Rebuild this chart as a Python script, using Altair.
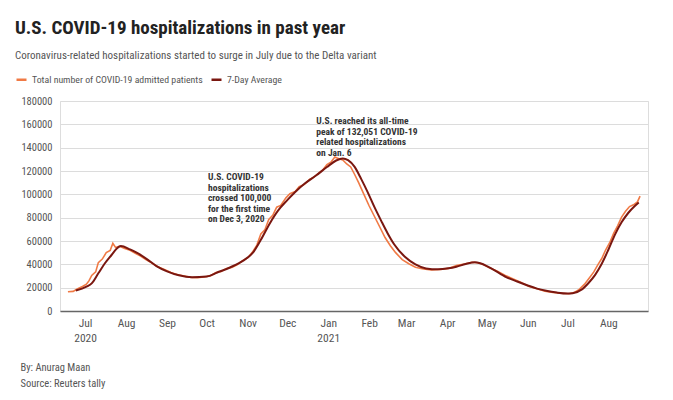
import altair as alt
import pandas as pd

# ---- data ----
avg_dates = ["2020-06-24", "2020-07-02", "2020-07-06", "2020-07-11", "2020-07-16", "2020-07-21",
             "2020-07-25", "2020-07-28", "2020-08-04", "2020-08-09", "2020-08-17", "2020-08-24",
             "2020-09-01", "2020-09-10", "2020-09-20", "2020-10-01", "2020-10-09", "2020-10-19",
             "2020-10-29", "2020-11-05", "2020-11-11", "2020-11-18", "2020-11-24", "2020-12-01",
             "2020-12-07", "2020-12-14", "2020-12-23", "2020-12-31", "2021-01-07", "2021-01-12",
             "2021-01-16", "2021-01-21", "2021-01-26", "2021-01-31", "2021-02-05", "2021-02-10",
             "2021-02-15", "2021-02-20", "2021-02-28", "2021-03-08", "2021-03-16", "2021-03-25",
             "2021-04-02", "2021-04-08", "2021-04-15", "2021-04-22", "2021-04-26", "2021-05-04",
             "2021-05-16", "2021-05-24", "2021-06-01", "2021-06-08", "2021-06-15", "2021-06-23",
             "2021-07-01", "2021-07-05", "2021-07-12", "2021-07-17", "2021-07-22", "2021-07-27",
             "2021-08-01", "2021-08-06", "2021-08-11", "2021-08-16", "2021-08-21", "2021-08-24"]
avg_values = [17500, 20800, 23700, 32300, 40900, 48000,
              53500, 55700, 52800, 50000, 44300, 38500,
              34000, 30600, 29000, 29500, 33000, 37500,
              43400, 50000, 61000, 75500, 86000, 95000,
              102000, 109000, 116300, 123400, 129000, 130800,
              129300, 123500, 113000, 101500, 89000, 77500,
              66500, 57000, 46500, 40000, 36500, 35700,
              36600, 38000, 40300, 41800, 41000, 36800,
              28900, 25300, 21900, 19200, 17300, 15800,
              15000, 15300, 18500, 24000, 31000, 40500,
              52500, 65500, 76000, 84000, 90000, 93000]

raw_dates = ["2020-06-18", "2020-06-22", "2020-06-25", "2020-06-29", "2020-07-02", "2020-07-04",
             "2020-07-06", "2020-07-09", "2020-07-11", "2020-07-14", "2020-07-17", "2020-07-20",
             "2020-07-22", "2020-07-24", "2020-07-27", "2020-07-31", "2020-08-04", "2020-08-08",
             "2020-08-12", "2020-08-16", "2020-08-20", "2020-08-25", "2020-08-30", "2020-09-04",
             "2020-09-09", "2020-09-14", "2020-09-19", "2020-09-24", "2020-09-29", "2020-10-04",
             "2020-10-08", "2020-10-12", "2020-10-16", "2020-10-20", "2020-10-24", "2020-10-28",
             "2020-11-01", "2020-11-05", "2020-11-08", "2020-11-11", "2020-11-14", "2020-11-17",
             "2020-11-20", "2020-11-23", "2020-11-26", "2020-11-30", "2020-12-03", "2020-12-07",
             "2020-12-10", "2020-12-14", "2020-12-18", "2020-12-21", "2020-12-25", "2020-12-28",
             "2020-12-31", "2021-01-03", "2021-01-06", "2021-01-09", "2021-01-12", "2021-01-15",
             "2021-01-18", "2021-01-21", "2021-01-24", "2021-01-28", "2021-02-01", "2021-02-05",
             "2021-02-09", "2021-02-13", "2021-02-17", "2021-02-21", "2021-02-26", "2021-03-03",
             "2021-03-08", "2021-03-14", "2021-03-20", "2021-03-27", "2021-04-02", "2021-04-08",
             "2021-04-14", "2021-04-20", "2021-04-24", "2021-04-28", "2021-05-03", "2021-05-09",
             "2021-05-15", "2021-05-21", "2021-05-27", "2021-06-02", "2021-06-08", "2021-06-14",
             "2021-06-20", "2021-06-26", "2021-07-02", "2021-07-06", "2021-07-10", "2021-07-14",
             "2021-07-18", "2021-07-21", "2021-07-24", "2021-07-27", "2021-07-30", "2021-08-02",
             "2021-08-05", "2021-08-08", "2021-08-11", "2021-08-14", "2021-08-17", "2021-08-20",
             "2021-08-23", "2021-08-25"]
raw_values = [16500, 16800, 18800, 21000, 23000, 26000,
              30500, 33500, 41500, 44500, 50000, 52000,
              58000, 54500, 55500, 53500, 52000, 49500,
              47000, 44000, 41500, 38000, 35500, 33000,
              31000, 30000, 28800, 28600, 29200, 30200,
              33000, 33800, 36500, 37200, 39500, 43000,
              45500, 51000, 56500, 66000, 69500, 78500,
              82000, 89000, 90500, 97000, 100500, 102500,
              106500, 108500, 113000, 114500, 118500, 121000,
              125500, 127500, 132051, 130500, 129500, 126000,
              123500, 117000, 110000, 100000, 90000, 81000,
              72000, 63000, 56000, 50000, 44000, 40500,
              37500, 36000, 35200, 35600, 36500, 39000,
              40300, 41800, 41300, 40000, 37000, 34000,
              30500, 27500, 24500, 21000, 19000, 17000,
              16000, 15200, 14800, 15800, 18500, 23000,
              29000, 33500, 39500, 45000, 52500, 58500,
              66500, 73000, 80500, 85500, 89500, 91000,
              93500, 98500]

y_ticks = [0, 20000, 40000, 60000, 80000, 100000, 120000, 140000, 160000, 180000]

series_names = ["Total number of COVID-19 admitted patients", "7-Day Average"]
series_colors = ["#F07A45", "#7A1710"]

note_dates = ["2020-10-02", "2020-12-23"]
note_values = [119000, 167000]
note_texts = [
    "U.S. COVID-19\nhospitalizations\ncrossed 100,000\nfor the first time\non Dec 3, 2020",
    "U.S. reached its all-time\npeak of 132,051 COVID-19\nrelated hospitalizations\non Jan. 6",
]

FONT = "Liberation Sans Narrow, Roboto Condensed, Lato"

raw_df = pd.DataFrame({"date": [d + "T00:00:00" for d in raw_dates], "value": raw_values,
                       "series": series_names[0]})
avg_df = pd.DataFrame({"date": [d + "T00:00:00" for d in avg_dates], "value": avg_values,
                       "series": series_names[1]})
note_df = pd.DataFrame({"date": [d + "T00:00:00" for d in note_dates], "value": note_values,
                        "text": note_texts})

label_expr = ("(month(datum.value) == 0 || (month(datum.value) == 6 && year(datum.value) == 2020))"
              " ? [timeFormat(datum.value, '%b'), timeFormat(datum.value, '%Y')]"
              " : timeFormat(datum.value, '%b')")

x_enc = alt.X(
    "date:T",
    scale=alt.Scale(domain=["2020-06-12T00:00:00", "2021-08-31T00:00:00"]),
    axis=alt.Axis(
        title=["By: Anurag Maan", "Source: Reuters tally"],
        titleFont=FONT, titleFontSize=10.5, titleFontWeight="normal", titleColor="#555",
        titleAnchor="start", titleAlign="left", titleBaseline="top",
        titleX=-40, titleY=51, titleLineHeight=16,
        tickCount=alt.TickCount(interval="month", step=1),
        labelExpr=label_expr, labelFont=FONT, labelFontSize=11.5, labelColor="#555",
        labelLineHeight=15, labelPadding=6, ticks=False, grid=False,
        domainColor="#666", domainWidth=1.5,
    ),
)
y_enc = alt.Y(
    "value:Q",
    scale=alt.Scale(domain=[0, 180000], nice=False),
    axis=alt.Axis(
        title=None, values=y_ticks, format="d", labelOverlap=False,
        labelFont=FONT, labelFontSize=10.5, labelColor="#555", labelPadding=8,
        ticks=False, domain=False, gridColor="#dcdcdc", gridWidth=1,
    ),
)
color_enc = alt.Color(
    "series:N",
    scale=alt.Scale(domain=series_names, range=series_colors),
    legend=alt.Legend(
        title=None, orient="none", direction="horizontal", legendX=-45, legendY=-28,
        symbolType="stroke", symbolStrokeWidth=2.5, symbolSize=100, labelLimit=400,
        labelFont=FONT, labelFontSize=9.8, labelColor="#555", columnPadding=3,
    ),
)

raw_line = alt.Chart(raw_df).mark_line(strokeWidth=1.6).encode(x=x_enc, y=y_enc, color=color_enc)
avg_line = alt.Chart(avg_df).mark_line(strokeWidth=2, interpolate="monotone").encode(
    x=x_enc, y=y_enc, color=color_enc)
notes = alt.Chart(note_df).mark_text(
    align="left", baseline="top", lineBreak="\n", font=FONT, fontSize=9.5,
    fontWeight="bold", color="#333", lineHeight=10.5,
).encode(x=x_enc, y=y_enc, text="text:N")

chart = alt.layer(raw_line, avg_line, notes).properties(
    width=588, height=210,
    autosize=alt.AutoSizeParams(type="none"),
    padding={"left": 52, "top": 93, "right": 17, "bottom": 80},
    title=alt.TitleParams(
        text="U.S. COVID-19 hospitalizations in past year",
        subtitle="Coronavirus-related hospitalizations started to surge in July due to the Delta variant",
        anchor="start", frame="group", dx=-45, offset=12,
        font=FONT, fontSize=19, fontWeight="bold", color="#222",
        subtitleFont=FONT, subtitleFontSize=11, subtitleColor="#555", subtitlePadding=12,
    ),
).configure_view(stroke=None).configure(background="white")

chart.save("out.html", embed_options={"renderer": "svg", "actions": False})
